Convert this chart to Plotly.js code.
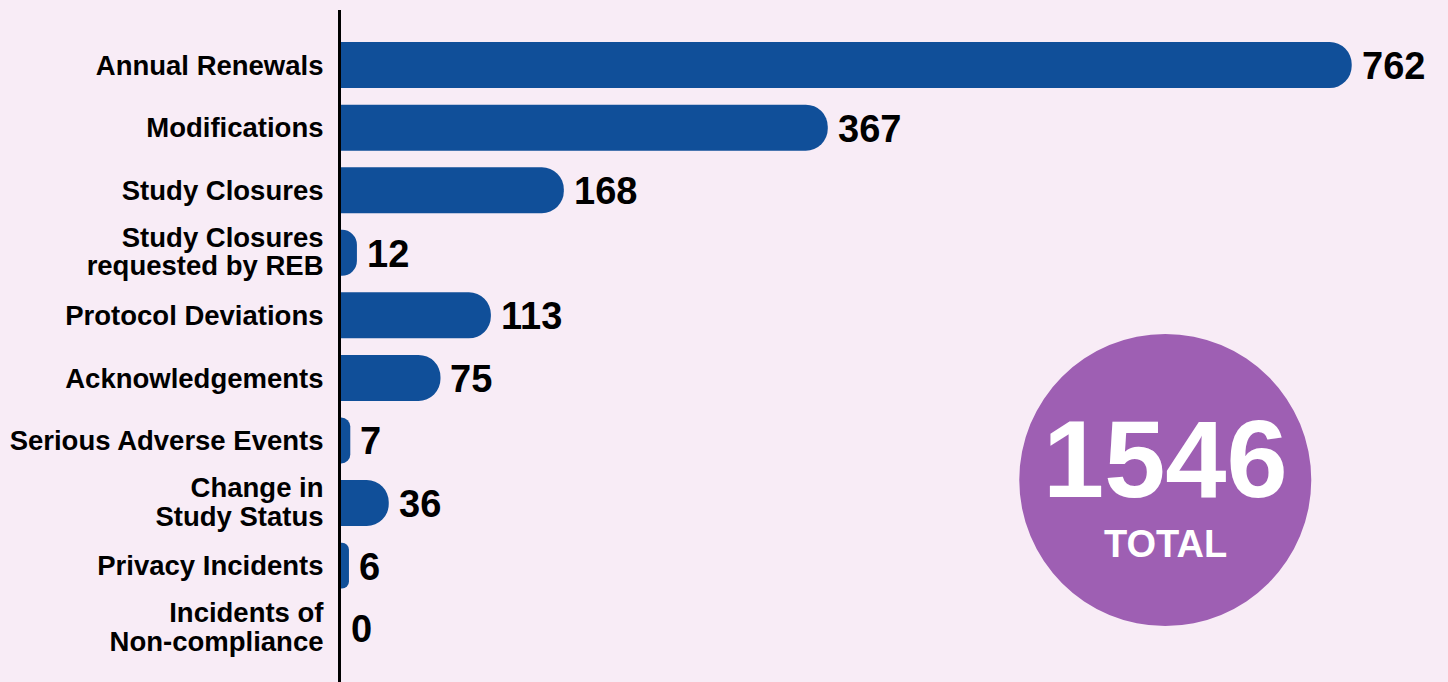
<!DOCTYPE html>
<html>
<head>
<meta charset="utf-8">
<script src="https://cdn.plot.ly/plotly-3.0.1.min.js"></script>
<style>
html,body{margin:0;padding:0;background:#f8ecf6;}
#chart{width:1448px;height:682px;}
</style>
</head>
<body>
<div id="chart"></div>
<script>
const categories = [
  "Annual Renewals",
  "Modifications",
  "Study Closures",
  "Study Closures<br>requested by REB",
  "Protocol Deviations",
  "Acknowledgements",
  "Serious Adverse Events",
  "Change in<br>Study Status",
  "Privacy Incidents",
  "Incidents of<br>Non-compliance"
];
const values = [762, 367, 168, 12, 113, 75, 7, 36, 6, 0];
const totalValue = 1546;
const totalLabel = "TOTAL";

const FONT = "Liberation Sans, Arial, Helvetica, sans-serif";
const BAR = "#104f99";
const BG = "#f8ecf6";
const LINE_GAP = 1.12;

const trace = {
  type: "bar",
  orientation: "h",
  x: values,
  y: categories,
  marker: {color: BAR, cornerradius: "50%", line: {width: 0}},
  hoverinfo: "skip"
};

const annotations = values.map((v, i) => ({
  x: v, y: categories[i], xref: "x", yref: "y",
  text: String(v), showarrow: false,
  xanchor: "left", yanchor: "middle", xshift: 8, yshift: -1,
  font: {family: FONT, size: 38, color: "#000", weight: "bold"}
}));

annotations.push({
  xref: "paper", yref: "paper", x: 0.7446, y: 0.3006,
  text: String(totalValue), showarrow: false,
  xanchor: "center", yanchor: "middle", yshift: 21,
  font: {family: FONT, size: 110, color: "#fff", weight: "bold"}
});
annotations.push({
  xref: "paper", yref: "paper", x: 0.7446, y: 0.3006,
  text: totalLabel, showarrow: false,
  xanchor: "center", yanchor: "middle", yshift: -64,
  font: {family: FONT, size: 38, color: "#fff", weight: "bold"}
});

const layout = {
  width: 1448, height: 682,
  margin: {l: 341, r: 0, t: 10, b: 0, pad: 0},
  paper_bgcolor: BG, plot_bgcolor: BG,
  showlegend: false,
  bargap: 0.265,
  xaxis: {range: [0, 834.6], visible: false, fixedrange: true},
  yaxis: {
    type: "category",
    range: [9.86, -0.88],
    showline: true, linecolor: "#000", linewidth: 3,
    showgrid: false, zeroline: false, ticks: "",
    ticklabelstandoff: 9,
    tickfont: {family: FONT, size: 27.5, color: "#000", weight: "bold"},
    fixedrange: true
  },
  shapes: [{
    type: "circle", xref: "paper", yref: "paper",
    xsizemode: "pixel", ysizemode: "pixel",
    xanchor: 0.7446, yanchor: 0.3006,
    x0: -146, x1: 146, y0: -146, y1: 146,
    fillcolor: "#9e5fb3", line: {width: 0}, layer: "below"
  }],
  annotations: annotations
};

function tightenLines() {
  document.querySelectorAll("#chart .ytick text").forEach(t => {
    const lines = t.querySelectorAll("tspan.line");
    if (lines.length < 2) return;
    lines.forEach((ln, i) => {
      const dy = parseFloat(ln.getAttribute("dy") || "0");
      if (i === 0) {
        ln.setAttribute("dy", (dy + (1.3 - LINE_GAP) / 2 * (lines.length - 1)) + "em");
      } else {
        ln.setAttribute("dy", (dy / 1.3 * LINE_GAP) + "em");
      }
    });
  });
}

Plotly.newPlot("chart", [trace], layout, {displayModeBar: false, staticPlot: true}).then(tightenLines);
</script>
</body>
</html>
